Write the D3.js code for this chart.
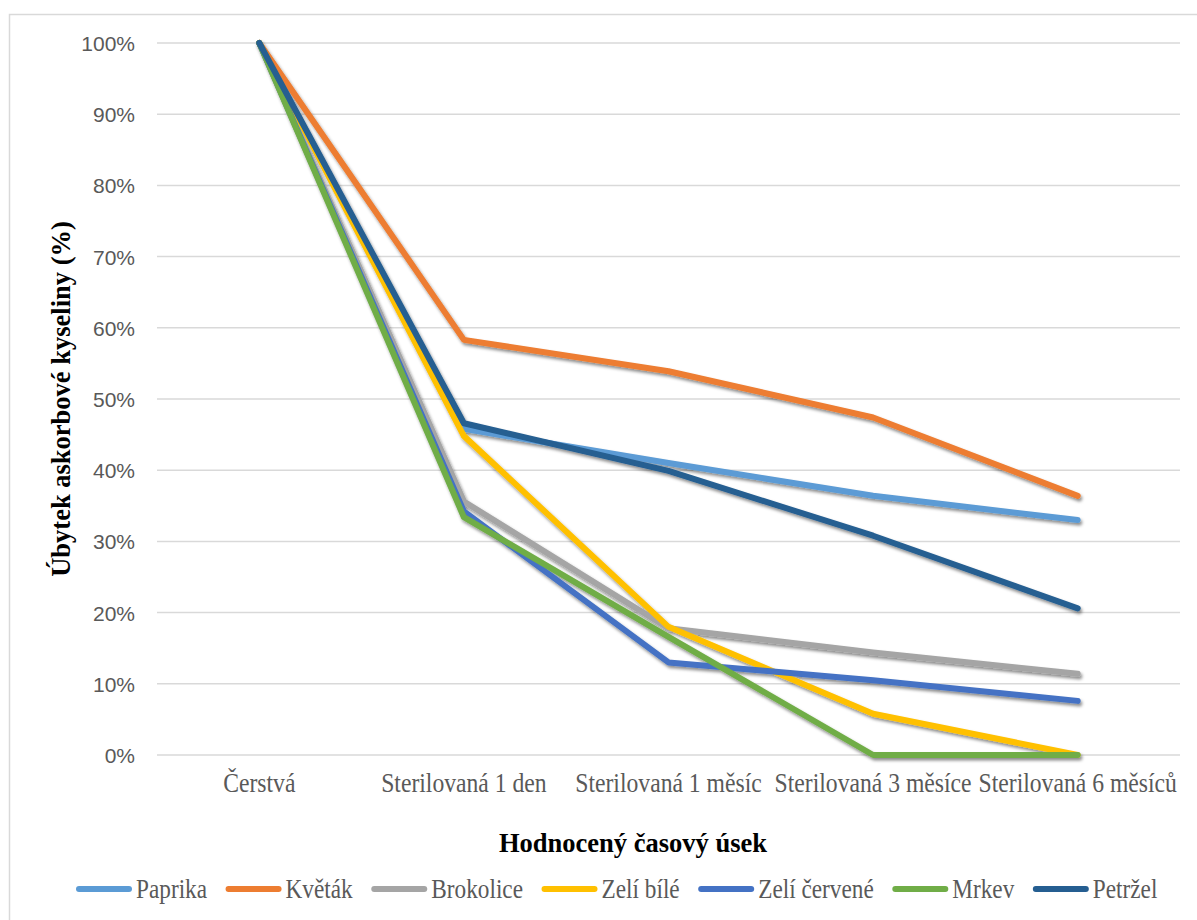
<!DOCTYPE html>
<html>
<head>
<meta charset="utf-8">
<script src="https://cdn.jsdelivr.net/npm/d3@7"></script>
<style>
  html, body { margin: 0; padding: 0; background: #ffffff; }
  svg { display: block; }
</style>
</head>
<body>
<svg id="chart" width="1197" height="920"></svg>
<script>
const categories = ["Čerstvá", "Sterilovaná 1 den", "Sterilovaná 1 měsíc", "Sterilovaná 3 měsíce", "Sterilovaná 6 měsíců"];
const seriesNames = ["Paprika", "Květák", "Brokolice", "Zelí bílé", "Zelí červené", "Mrkev", "Petržel"];
const paprika = [100, 45.8, 41.0, 36.4, 33.0];
const kvetak = [100, 58.3, 53.9, 47.4, 36.4];
const brokolice = [100, 35.6, 17.8, 14.4, 11.4];
const zeliBile = [100, 44.8, 18.0, 5.8, 0];
const zeliCervene = [100, 34.2, 13.0, 10.5, 7.6];
const mrkev = [100, 33.4, 16.6, 0, 0];
const petrzel = [100, 46.6, 39.9, 30.8, 20.6];
const yTicks = [0, 10, 20, 30, 40, 50, 60, 70, 80, 90, 100];
const colors = ["#5B9BD5", "#ED7D31", "#A5A5A5", "#FFC000", "#4472C4", "#70AD47", "#255E91"];
const yTitle = "Úbytek askorbové kyseliny (%)";
const xTitle = "Hodnocený časový úsek";

const seriesValues = [paprika, kvetak, brokolice, zeliBile, zeliCervene, mrkev, petrzel];
const series = seriesNames.map((n, i) => ({ name: n, values: seriesValues[i], color: colors[i] }));

const svg = d3.select("#chart");
const plot = { left: 157, right: 1180, top: 43, bottom: 755 };

const defs = svg.append("defs");
const f = defs.append("filter").attr("id", "shadow")
  .attr("filterUnits", "userSpaceOnUse")
  .attr("x", 0).attr("y", 0).attr("width", 1197).attr("height", 920);
f.append("feDropShadow").attr("dx", 1.5).attr("dy", 2.5).attr("stdDeviation", 1.8)
  .attr("flood-color", "#000").attr("flood-opacity", 0.45);

// outer border (top and left visible)
svg.append("path")
  .attr("d", "M9.5,920 L9.5,14.5 L1197,14.5")
  .attr("fill", "none").attr("stroke", "#D9D9D9").attr("stroke-width", 1.5);

const x = d3.scaleBand().domain(categories).range([plot.left, plot.right]);
const y = d3.scaleLinear().domain([0, 100]).range([plot.bottom, plot.top]);

// gridlines
svg.append("g").selectAll("line").data(yTicks).join("line")
  .attr("x1", plot.left).attr("x2", plot.right)
  .attr("y1", d => y(d)).attr("y2", d => y(d))
  .attr("stroke", "#D9D9D9").attr("stroke-width", 1.5);

// y tick labels
const yAxis = d3.axisLeft(y).tickValues(yTicks).tickFormat(d => d + "%").tickSize(0).tickPadding(0);
const yg = svg.append("g").attr("transform", "translate(135,0)").call(yAxis);
yg.select(".domain").remove();
yg.selectAll("text")
  .attr("font-family", "'Liberation Sans', Arial, sans-serif")
  .attr("font-size", "21px").attr("fill", "#595959").attr("dy", "0.36em");

// x tick labels
const xAxis = d3.axisBottom(x).tickSize(0).tickPadding(0);
const xg = svg.append("g").call(xAxis);
xg.select(".domain").remove();
xg.selectAll(".tick").attr("transform", null);
xg.selectAll(".tick text")
  .attr("x", null).attr("y", null).attr("dy", null)
  .attr("transform", d => `translate(${x(d) + x.bandwidth() / 2},792) scale(0.91,1.05)`)
  .attr("text-anchor", "middle")
  .attr("font-family", "'Liberation Serif', 'Times New Roman', serif")
  .attr("font-size", "26px").attr("fill", "#595959");

// lines
const line = d3.line()
  .x((d, i) => x(categories[i]) + x.bandwidth() / 2)
  .y(d => y(d));

svg.append("g").attr("filter", "url(#shadow)")
  .selectAll("path").data(series).join("path")
  .attr("d", d => line(d.values))
  .attr("fill", "none")
  .attr("stroke", d => d.color)
  .attr("stroke-width", 6)
  .attr("stroke-linejoin", "round")
  .attr("stroke-linecap", "round");

// axis titles
svg.append("text")
  .attr("transform", `translate(70,${(plot.top + plot.bottom) / 2}) rotate(-90)`)
  .attr("text-anchor", "middle")
  .attr("font-family", "'Liberation Serif', 'Times New Roman', serif")
  .attr("font-weight", "bold").attr("font-size", "26.5px").attr("fill", "#000")
  .text(yTitle);

svg.append("text")
  .attr("x", 633).attr("y", 852)
  .attr("text-anchor", "middle")
  .attr("font-family", "'Liberation Serif', 'Times New Roman', serif")
  .attr("font-weight", "bold").attr("font-size", "26.5px").attr("fill", "#000")
  .text(xTitle);

// legend
const lg = svg.append("g");
let lx = 76;
const legY = 889;
series.forEach(s => {
  const g = lg.append("g");
  g.append("line")
    .attr("x1", lx + 3).attr("x2", lx + 53)
    .attr("y1", legY).attr("y2", legY)
    .attr("stroke", s.color).attr("stroke-width", 6)
    .attr("stroke-linecap", "round");
  const t = g.append("text")
    .attr("transform", `translate(${lx + 60},898) scale(0.895,1.05)`)
    .attr("font-family", "'Liberation Serif', 'Times New Roman', serif")
    .attr("font-size", "26px").attr("fill", "#595959")
    .text(s.name);
  const w = t.node().getComputedTextLength() * 0.895;
  lx = lx + 60 + w + 18.5;
});
</script>
</body>
</html>
